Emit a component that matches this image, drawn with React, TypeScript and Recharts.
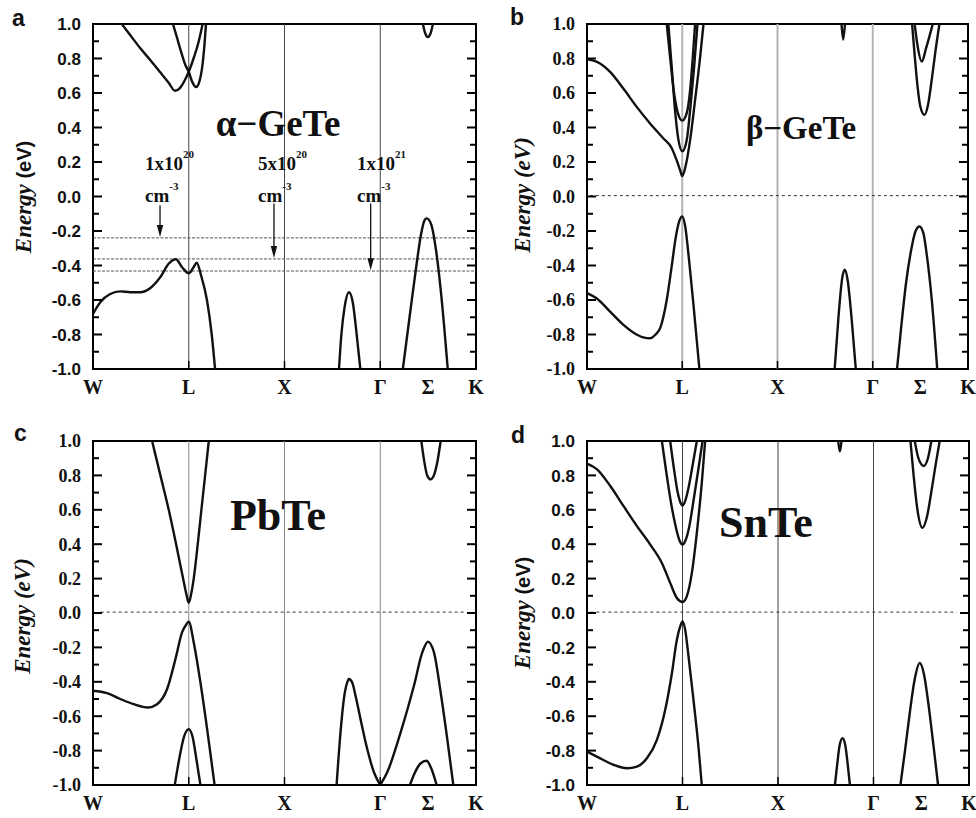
import React from 'react';
import { LineChart, Line, XAxis, YAxis, ReferenceLine, ReferenceArea, ReferenceDot } from 'recharts';

type Pt = [number, number];

const SERIF = '"Liberation Serif", "Times New Roman", serif';
const SANS = '"Liberation Sans", Arial, sans-serif';

// k-path positions and labels
const kTicks = [0, 1, 2, 3, 3.5, 4];
const kLabels = ['W', 'L', 'X', 'Γ', 'Σ', 'K'];
const kMarked = [1, 2, 3];
const eTicks = [-1, -0.9, -0.8, -0.7, -0.6, -0.5, -0.4, -0.3, -0.2, -0.1, 0, 0.1, 0.2, 0.3, 0.4, 0.5, 0.6, 0.7, 0.8, 0.9, 1];

// a: alpha-GeTe
const aCond1: Pt[] = [[0.30, 1.0], [0.39, 0.935], [0.49, 0.862], [0.60, 0.79], [0.70, 0.722], [0.79, 0.66], [0.856, 0.613], [0.91, 0.63], [0.96, 0.675], [1.0, 0.723], [1.05, 0.80], [1.10, 0.89], [1.145, 1.0]];
const aCond2: Pt[] = [[0.835, 1.0], [0.875, 0.925], [0.925, 0.83], [0.965, 0.762], [1.0, 0.723], [1.04, 0.66], [1.076, 0.635], [1.11, 0.665], [1.145, 0.77], [1.165, 0.885], [1.18, 1.0]];
const aCond3: Pt[] = [[3.445, 1.0], [3.47, 0.945], [3.497, 0.925], [3.525, 0.945], [3.55, 1.0]];
const aVal1: Pt[] = [[0, -0.68], [0.08, -0.61], [0.18, -0.565], [0.285, -0.55], [0.39, -0.555], [0.49, -0.555], [0.60, -0.53], [0.70, -0.47], [0.79, -0.39], [0.865, -0.364], [0.93, -0.41], [1.0, -0.445], [1.05, -0.41], [1.083, -0.384], [1.13, -0.46], [1.19, -0.60], [1.24, -0.80], [1.275, -1.0]];
const aVal2: Pt[] = [[2.569, -1.0], [2.594, -0.80], [2.628, -0.64], [2.674, -0.555], [2.715, -0.62], [2.75, -0.78], [2.792, -1.0]];
const aVal3: Pt[] = [[3.236, -1.0], [3.306, -0.70], [3.375, -0.41], [3.427, -0.216], [3.462, -0.138], [3.485, -0.127], [3.531, -0.16], [3.583, -0.313], [3.635, -0.56], [3.705, -1.0]];
const aFermi = [-0.24, -0.362, -0.432];

// b: beta-GeTe
const bCond1: Pt[] = [[0, 0.795], [0.10, 0.782], [0.24, 0.724], [0.38, 0.627], [0.52, 0.521], [0.66, 0.425], [0.80, 0.338], [0.89, 0.28], [0.94, 0.212], [0.977, 0.154], [1.0, 0.118], [1.03, 0.164], [1.083, 0.328], [1.135, 0.56], [1.188, 0.81], [1.223, 1.0]];
const bCond2: Pt[] = [[0.854, 1.0], [0.889, 0.753], [0.924, 0.502], [0.96, 0.328], [1.0, 0.262], [1.047, 0.328], [1.083, 0.502], [1.125, 0.753], [1.16, 1.0]];
const bCond3: Pt[] = [[0.837, 1.0], [0.872, 0.81], [0.914, 0.60], [0.96, 0.473], [1.0, 0.44], [1.047, 0.483], [1.083, 0.618], [1.111, 0.81], [1.135, 1.0]];
const bCond4: Pt[] = [[3.413, 1.0], [3.44, 0.82], [3.47, 0.64], [3.50, 0.52], [3.543, 0.473], [3.58, 0.53], [3.62, 0.68], [3.66, 0.85], [3.70, 1.0]];
const bCond5: Pt[] = [[3.44, 1.0], [3.47, 0.875], [3.515, 0.782], [3.56, 0.86], [3.63, 1.0]];
const bCond6: Pt[] = [[2.672, 1.0], [2.69, 0.91], [2.708, 1.0]];
const bVal1: Pt[] = [[0, -0.56], [0.10, -0.59], [0.24, -0.666], [0.38, -0.743], [0.52, -0.80], [0.60, -0.818], [0.66, -0.822], [0.72, -0.80], [0.77, -0.76], [0.837, -0.60], [0.889, -0.405], [0.928, -0.25], [0.97, -0.14], [1.0, -0.115], [1.03, -0.17], [1.07, -0.36], [1.12, -0.64], [1.18, -1.0]];
const bVal2: Pt[] = [[2.60, -1.0], [2.64, -0.70], [2.68, -0.47], [2.706, -0.425], [2.735, -0.48], [2.78, -0.72], [2.822, -1.0]];
const bVal3: Pt[] = [[3.255, -1.0], [3.30, -0.75], [3.35, -0.50], [3.40, -0.32], [3.45, -0.20], [3.49, -0.174], [3.53, -0.21], [3.57, -0.35], [3.62, -0.60], [3.677, -1.0]];

// c: PbTe
const cCond1: Pt[] = [[0.617, 1.0], [0.704, 0.8], [0.791, 0.6], [0.868, 0.4], [0.941, 0.2], [0.975, 0.11], [1.0, 0.06], [1.025, 0.11], [1.052, 0.2], [1.094, 0.4], [1.132, 0.6], [1.171, 0.8], [1.209, 1.0]];
const cCond2: Pt[] = [[3.429, 1.0], [3.46, 0.88], [3.49, 0.80], [3.526, 0.777], [3.56, 0.80], [3.60, 0.89], [3.631, 1.0]];
const cVal1: Pt[] = [[0, -0.452], [0.146, -0.466], [0.286, -0.50], [0.425, -0.53], [0.574, -0.549], [0.669, -0.53], [0.774, -0.442], [0.861, -0.268], [0.93, -0.113], [0.976, -0.065], [1.0, -0.05], [1.052, -0.171], [1.122, -0.404], [1.192, -0.675], [1.27, -1.0]];
const cVal2: Pt[] = [[0.854, -1.0], [0.90, -0.85], [0.95, -0.72], [1.0, -0.675], [1.04, -0.72], [1.08, -0.85], [1.122, -1.0]];
const cVal3: Pt[] = [[2.544, -1.0], [2.585, -0.694], [2.62, -0.50], [2.655, -0.404], [2.672, -0.384], [2.707, -0.404], [2.742, -0.481], [2.794, -0.617], [2.864, -0.791], [2.934, -0.926], [3.0, -1.0]];
const cVal4: Pt[] = [[3.0, -1.0], [3.073, -0.926], [3.213, -0.694], [3.352, -0.423], [3.439, -0.229], [3.498, -0.167], [3.561, -0.229], [3.631, -0.462], [3.70, -0.733], [3.763, -1.0]];
const cVal5: Pt[] = [[3.31, -1.0], [3.36, -0.93], [3.42, -0.875], [3.484, -0.859], [3.53, -0.90], [3.589, -1.0]];

// d: SnTe
const dCond1: Pt[] = [[0, 0.868], [0.105, 0.835], [0.244, 0.738], [0.383, 0.621], [0.523, 0.505], [0.662, 0.398], [0.784, 0.291], [0.871, 0.175], [0.941, 0.087], [1.0, 0.064], [1.045, 0.097], [1.098, 0.233], [1.15, 0.466], [1.202, 0.757], [1.237, 1.0]];
const dCond2: Pt[] = [[0.784, 1.0], [0.83, 0.82], [0.88, 0.64], [0.93, 0.50], [0.97, 0.42], [1.0, 0.398], [1.03, 0.42], [1.07, 0.50], [1.12, 0.67], [1.17, 0.85], [1.21, 1.0]];
const dCond3: Pt[] = [[0.871, 1.0], [0.91, 0.84], [0.95, 0.70], [0.98, 0.64], [1.0, 0.625], [1.02, 0.64], [1.06, 0.72], [1.10, 0.84], [1.15, 1.0]];
const dCond4: Pt[] = [[3.387, 1.0], [3.42, 0.80], [3.46, 0.60], [3.512, 0.495], [3.56, 0.56], [3.61, 0.72], [3.65, 0.86], [3.693, 1.0]];
const dCond5: Pt[] = [[3.432, 1.0], [3.47, 0.90], [3.526, 0.855], [3.57, 0.90], [3.606, 1.0]];
const dCond6: Pt[] = [[2.63, 1.0], [2.648, 0.94], [2.665, 1.0]];
const dVal1: Pt[] = [[0, -0.806], [0.139, -0.845], [0.279, -0.883], [0.418, -0.903], [0.523, -0.893], [0.627, -0.845], [0.732, -0.738], [0.819, -0.563], [0.889, -0.35], [0.941, -0.155], [0.976, -0.078], [1.0, -0.049], [1.028, -0.097], [1.063, -0.252], [1.115, -0.505], [1.167, -0.777], [1.202, -1.0]];
const dVal2: Pt[] = [[2.596, -1.0], [2.62, -0.88], [2.645, -0.77], [2.676, -0.728], [2.705, -0.77], [2.73, -0.88], [2.753, -1.0]];
const dVal3: Pt[] = [[3.282, -1.0], [3.33, -0.80], [3.38, -0.58], [3.43, -0.39], [3.484, -0.291], [3.53, -0.36], [3.58, -0.55], [3.63, -0.78], [3.676, -1.0]];

const Y_W = 60;
const X_H = 30;

interface PanelCfg {
  left: number; top: number; w: number; h: number;
  plot: { x: number; y: number; w: number; h: number };
  bands: Pt[][];
  tickFamily: string; tickFs: number;
  vStroke: string; vWidth: number;
  zeroLine?: [number, number];
  children?: React.ReactNode;
}

function renderETick(p: any, plotW: number, family: string, fs: number) {
  const { x, y, payload } = p;
  const v = payload.value as number;
  const major = Math.abs(Math.round(v * 10)) % 2 === 0;
  const len = major ? 9 : 6;
  return (
    <g key={`e${v}`}>
      <line x1={x} x2={x + len} y1={y} y2={y} stroke="#000" strokeWidth={2} />
      <line x1={x + plotW} x2={x + plotW - len} y1={y} y2={y} stroke="#000" strokeWidth={2} />
      {major && (
        <text x={x - 12} y={y} dy="0.36em" textAnchor="end" fill="#111" fontFamily={family} fontWeight="bold" fontSize={fs}>
          {v.toFixed(1)}
        </text>
      )}
    </g>
  );
}

function renderKTick(p: any) {
  const { x, y, payload } = p;
  const i = kTicks.indexOf(payload.value);
  return (
    <g key={`k${payload.value}`}>
      {kMarked.includes(payload.value) && <line x1={x} x2={x} y1={y} y2={y - 8} stroke="#000" strokeWidth={1.5} />}
      <text x={x} y={y + 25} textAnchor="middle" fill="#111" fontFamily={SERIF} fontWeight="bold" fontSize={20}>
        {kLabels[i]}
      </text>
    </g>
  );
}

const arrowHead = (p: any) => (
  <path d={`M${p.cx - 3.2},${p.cy - 12} L${p.cx + 3.2},${p.cy - 12} L${p.cx},${p.cy} Z`} fill="#111" />
);

function Panel({ cfg, overlay }: { cfg: PanelCfg; overlay: React.ReactNode }) {
  const { plot } = cfg;
  const margin = {
    top: plot.y,
    left: plot.x - Y_W,
    right: cfg.w - plot.x - plot.w,
    bottom: cfg.h - plot.y - plot.h - X_H,
  };
  return (
    <div style={{ position: 'absolute', left: cfg.left, top: cfg.top, width: cfg.w, height: cfg.h }}>
      <LineChart width={cfg.w} height={cfg.h} margin={margin}>
        <XAxis type="number" dataKey="k" domain={[0, 4]} ticks={kTicks} interval={0} allowDataOverflow
          axisLine={false} tickLine={false} tickSize={0} tickMargin={0} height={X_H} tick={renderKTick} />
        <YAxis type="number" domain={[-1, 1]} ticks={eTicks} interval={0} allowDataOverflow
          axisLine={false} tickLine={false} tickSize={0} tickMargin={0} width={Y_W}
          tick={(p: any) => renderETick(p, plot.w, cfg.tickFamily, cfg.tickFs)} />
        {kMarked.map((k) => (
          <ReferenceLine key={k} x={k} stroke={cfg.vStroke} strokeWidth={cfg.vWidth} />
        ))}
        {cfg.zeroLine && (
          <ReferenceLine segment={[{ x: cfg.zeroLine[0], y: 0.005 }, { x: cfg.zeroLine[1], y: 0.005 }]}
            stroke="#333" strokeWidth={1} strokeDasharray="3 3" />
        )}
        {cfg.children}
        {cfg.bands.map((b, i) => (
          <Line key={i} data={b.map(([k, e]) => ({ k, e }))} dataKey="e" type="monotone" dot={false} activeDot={false}
            stroke="#111" strokeWidth={2.4} isAnimationActive={false} />
        ))}
        <ReferenceArea x1={0} x2={4} y1={-1} y2={1} fill="none" fillOpacity={0} stroke="#000" strokeWidth={2} />
      </LineChart>
      {overlay}
    </div>
  );
}

const abs = (left: number, top: number, extra: React.CSSProperties = {}): React.CSSProperties => ({
  position: 'absolute', left, top, lineHeight: 1, whiteSpace: 'nowrap', color: '#111', ...extra,
});

function Letter({ ch, left, base }: { ch: string; left: number; base: number }) {
  return <div style={abs(left, base - 19, { fontFamily: SANS, fontWeight: 'bold', fontSize: 23 })}>{ch}</div>;
}

function Title({ text, cx, cy, fs }: { text: string; cx: number; cy: number; fs: number }) {
  return (
    <div style={abs(cx, cy, { fontFamily: SERIF, fontWeight: 'bold', fontSize: fs, transform: 'translate(-50%,-50%)' })}>{text}</div>
  );
}

function YLabel({ cx, cy, sansUnit }: { cx: number; cy: number; sansUnit: boolean }) {
  return (
    <div style={abs(cx, cy, { fontFamily: SERIF, fontWeight: 'bold', fontSize: 23, transform: 'translate(-50%,-50%) rotate(-90deg)' })}>
      <span style={{ fontStyle: 'italic' }}>Energy</span>
      {sansUnit
        ? <span style={{ fontFamily: SANS, fontSize: 20 }}> (eV)</span>
        : <span style={{ fontStyle: 'italic' }}> (eV)</span>}
    </div>
  );
}

function Conc({ left, base, mant, exp }: { left: number; base: number; mant: string; exp: string }) {
  const t = { fontFamily: SERIF, fontWeight: 'bold' as const, fontSize: 19 };
  const sup: React.CSSProperties = { fontSize: 11, position: 'relative', top: -12 };
  return (
    <>
      <div style={abs(left, base - 16, t)}>{mant}<span style={sup}>{exp}</span></div>
      <div style={abs(left, base + 16, t)}>cm<span style={sup}>-3</span></div>
    </>
  );
}

const panelA: PanelCfg = {
  left: 0, top: 0, w: 490, h: 400, plot: { x: 93, y: 24, w: 383, h: 345 },
  bands: [aCond1, aCond2, aCond3, aVal1, aVal2, aVal3],
  tickFamily: SANS, tickFs: 17, vStroke: '#444', vWidth: 1,
  children: [
    ...aFermi.map((e) => <ReferenceLine key={`f${e}`} y={e} stroke="#555" strokeWidth={1} strokeDasharray="3 1.5" />),
    <ReferenceLine key="ar1" segment={[{ x: 0.70, y: -0.05 }, { x: 0.70, y: -0.19 }]} stroke="#111" strokeWidth={1.3} />,
    <ReferenceLine key="ar2" segment={[{ x: 1.89, y: -0.04 }, { x: 1.89, y: -0.31 }]} stroke="#111" strokeWidth={1.3} />,
    <ReferenceLine key="ar3" segment={[{ x: 2.90, y: -0.04 }, { x: 2.90, y: -0.38 }]} stroke="#111" strokeWidth={1.3} />,
    <ReferenceDot key="h1" x={0.70} y={-0.235} shape={arrowHead} />,
    <ReferenceDot key="h2" x={1.89} y={-0.357} shape={arrowHead} />,
    <ReferenceDot key="h3" x={2.90} y={-0.427} shape={arrowHead} />,
  ],
};

const panelB: PanelCfg = {
  left: 490, top: 0, w: 486, h: 400, plot: { x: 97, y: 24, w: 381, h: 345 },
  bands: [bCond1, bCond2, bCond3, bCond4, bCond5, bCond6, bVal1, bVal2, bVal3],
  tickFamily: SERIF, tickFs: 18, vStroke: '#b4b4b4', vWidth: 2, zeroLine: [0.03, 4],
};

const panelC: PanelCfg = {
  left: 0, top: 400, w: 490, h: 418, plot: { x: 93, y: 41, w: 383, h: 344 },
  bands: [cCond1, cCond2, cVal1, cVal2, cVal3, cVal4, cVal5],
  tickFamily: SERIF, tickFs: 18, vStroke: '#888', vWidth: 1, zeroLine: [0.08, 3.89],
};

const panelD: PanelCfg = {
  left: 490, top: 400, w: 486, h: 418, plot: { x: 97, y: 41, w: 382, h: 344 },
  bands: [dCond1, dCond2, dCond3, dCond4, dCond5, dCond6, dVal1, dVal2, dVal3],
  tickFamily: SANS, tickFs: 17, vStroke: '#444', vWidth: 1, zeroLine: [0.035, 3.87],
};

export default function App() {
  return (
    <div style={{ position: 'absolute', left: 0, top: 0, width: 976, height: 818, background: '#fff', overflow: 'hidden' }}>
      <Panel cfg={panelA} overlay={<>
        <Letter ch="a" left={12} base={26} />
        <Title text="α−GeTe" cx={278} cy={123} fs={37} />
        <YLabel cx={23} cy={197} sansUnit />
        <Conc left={145} base={170} mant="1x10" exp="20" />
        <Conc left={258} base={170} mant="5x10" exp="20" />
        <Conc left={357} base={170} mant="1x10" exp="21" />
      </>} />
      <Panel cfg={panelB} overlay={<>
        <Letter ch="b" left={20} base={25} />
        <Title text="β−GeTe" cx={311} cy={128} fs={33} />
        <YLabel cx={32} cy={195} sansUnit={false} />
      </>} />
      <Panel cfg={panelC} overlay={<>
        <Letter ch="c" left={14} base={41} />
        <Title text="PbTe" cx={278} cy={116} fs={44} />
        <YLabel cx={22} cy={216} sansUnit={false} />
      </>} />
      <Panel cfg={panelD} overlay={<>
        <Letter ch="d" left={21} base={43} />
        <Title text="SnTe" cx={276} cy={123} fs={44} />
        <YLabel cx={32} cy={213} sansUnit />
      </>} />
    </div>
  );
}
